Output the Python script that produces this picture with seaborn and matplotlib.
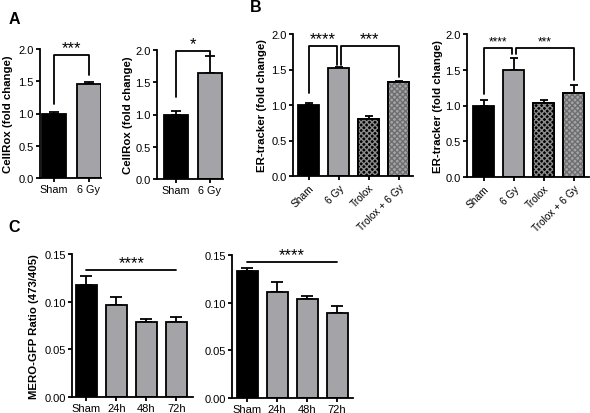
import numpy as np
import matplotlib
matplotlib.use("Agg")
import matplotlib.pyplot as plt
import seaborn as sns

# ---------------- data ----------------
a_cats = ["Sham", "6 Gy"]
a1_vals = [1.00, 1.457]
a1_err = [0.03, 0.025]
a2_vals = [1.00, 1.65]
a2_err = [0.06, 0.25]

b_cats = ["Sham", "6 Gy", "Trolox", "Trolox + 6 Gy"]
b1_vals = [0.995, 1.52, 0.805, 1.32]
b1_err = [0.035, 0.015, 0.04, 0.012]
b2_vals = [1.00, 1.50, 1.03, 1.17]
b2_err = [0.07, 0.16, 0.04, 0.12]

c_cats = ["Sham", "24h", "48h", "72h"]
c1_vals = [0.1176, 0.097, 0.0785, 0.0785]
c1_err = [0.0097, 0.0077, 0.0028, 0.0055]
c2_vals = [0.133, 0.111, 0.1036, 0.0889]
c2_err = [0.0035, 0.011, 0.0038, 0.008]

# significance brackets: (x_left, x_right, leg_left, leg_right, top, label)
a1_sig = [(0, 1, 1.15, 1.59, 1.90, "***")]
a2_sig = [(0, 1, 1.27, 1.93, 1.98, "*")]
b1_sig = [(0, 0.93, 1.17, 1.565, 1.836, "****"), (1.07, 3, 1.565, 1.39, 1.836, "***")]
b2_sig = [(0, 0.93, 1.16, 1.72, 1.81, "****"), (1.07, 3, 1.72, 1.35, 1.81, "***")]
c1_sig = [(0, 3, 0.1333, "****")]
c2_sig = [(0, 3, 0.1423, "****")]

# ---------------- style ----------------
sns.set_theme(style="ticks")
plt.rcParams["font.family"] = ["Liberation Sans", "DejaVu Sans"]
plt.rcParams["hatch.linewidth"] = 1.0

W, H = 590, 414
fig = plt.figure(figsize=(W / 100, H / 100), dpi=100)

GRAY = "#a3a3a8"
BLACK = "#000000"
LW = 1.3


def rect(l, r, t, b):
    return [l / W, 1 - b / H, (r - l) / W, (b - t) / H]


def make_panel(pos, cats, vals, errs, colors, hatched, xlim, ylim, yticks, fmt,
               ylabel, ylabel_px, xrot, xfs, capsize):
    l, r, t, b = pos
    ax = fig.add_axes(rect(l, r, t, b))
    sns.barplot(x=cats, y=vals, hue=cats, palette=colors, legend=False,
                edgecolor="black", linewidth=LW, width=0.7, saturation=1,
                ax=ax, zorder=2)
    n = len(cats)
    for i in hatched:
        hc = "#8c8c8c" if colors[i] == BLACK else "#6e6e6e"
        ax.bar(i, vals[i], width=0.7, fill=False, hatch="xxxxxx",
               edgecolor=hc, linewidth=0, zorder=2.1)
        ax.bar(i, vals[i], width=0.7, fill=False, edgecolor="black",
               linewidth=LW, zorder=2.2)
    ax.errorbar(np.arange(n), vals, yerr=[np.zeros(n), errs], fmt="none",
                ecolor="black", elinewidth=LW, capsize=capsize, capthick=LW,
                zorder=1.5)
    ax.set_xlim(*xlim)
    ax.set_ylim(*ylim)
    ax.set_yticks(yticks)
    ax.set_yticklabels([fmt % v for v in yticks], fontsize=8)
    ax.set_xticks(np.arange(n))
    if xrot:
        ax.set_xticklabels(cats, rotation=45, ha="right",
                           rotation_mode="anchor", fontsize=xfs)
    else:
        ax.set_xticklabels(cats, fontsize=xfs)
    ax.set_xlabel("")
    sns.despine(ax=ax)
    for s in ("left", "bottom"):
        ax.spines[s].set_linewidth(LW)
        ax.spines[s].set_color("black")
    ax.tick_params(axis="both", length=3, width=LW, color="black",
                   pad=1.5, labelcolor="black")
    if ylabel:
        ax.set_ylabel(ylabel, fontsize=8.2, fontweight="bold", color="black")
        ax.yaxis.set_label_coords((ylabel_px - l) / (r - l), 0.5)
    else:
        ax.set_ylabel("")
    return ax


def brackets(ax, sigs, fs):
    for x0, x1, y0, y1, top, lab in sigs:
        ax.plot([x0, x0, x1, x1], [y0, top, top, y1], color="black",
                lw=LW, clip_on=False, zorder=3)
        ax.text((x0 + x1) / 2, top, lab, ha="center", va="bottom",
                fontsize=fs, color="black", clip_on=False)


def lines(ax, sigs, fs):
    for x0, x1, y, lab in sigs:
        ax.plot([x0, x1], [y, y], color="black", lw=LW, clip_on=False, zorder=3)
        ax.text((x0 + x1) / 2, y, lab, ha="center", va="bottom",
                fontsize=fs, color="black", clip_on=False)


a_cols = [BLACK, GRAY]
b_cols = [BLACK, GRAY, BLACK, GRAY]
c_cols = [BLACK, GRAY, GRAY, GRAY]
yt_a = [0.0, 0.5, 1.0, 1.5, 2.0]
yt_c = [0.0, 0.05, 0.10, 0.15]

ax = make_panel((40, 101, 50, 179), a_cats, a1_vals, a1_err, a_cols, [],
                (-0.41, 1.36), (0, 2.0), yt_a, "%.1f",
                "CellRox (fold change)", 13, False, 7.8, 3.5)
brackets(ax, a1_sig, 12)

ax = make_panel((157, 223, 51, 180), a_cats, a2_vals, a2_err, a_cols, [],
                (-0.54, 1.38), (0, 2.0), yt_a, "%.1f",
                "CellRox (fold change)", 133, False, 7.8, 3.5)
brackets(ax, a2_sig, 12)

ax = make_panel((293, 413, 35, 177), b_cats, b1_vals, b1_err, b_cols, [2, 3],
                (-0.53, 3.47), (0, 2.0), yt_a, "%.1f",
                "ER-tracker (fold change)", 267, True, 7.3, 3)
brackets(ax, b1_sig, 12)

ax = make_panel((467, 589, 35, 178), b_cats, b2_vals, b2_err, b_cols, [2, 3],
                (-0.55, 3.5), (0, 2.0), yt_a, "%.1f",
                "ER-tracker (fold change)", 443, True, 7.3, 3)
brackets(ax, b2_sig, 8.5)

ax = make_panel((72, 193, 255, 398), c_cats, c1_vals, c1_err, c_cols, [],
                (-0.48, 3.55), (0, 0.15), yt_c, "%.2f",
                "MERO-GFP Ratio (473/405)", 39, False, 8, 4)
lines(ax, c1_sig, 12)

ax = make_panel((232, 353, 256, 399), c_cats, c2_vals, c2_err, c_cols, [],
                (-0.5, 3.53), (0, 0.15), yt_c, "%.2f",
                None, 0, False, 8, 4)
lines(ax, c2_sig, 12)

for lab, x, y in (("A", 14, 20), ("B", 256, 8), ("C", 14, 228)):
    fig.text(x / W, 1 - y / H, lab, fontsize=11.5, fontweight="bold",
             ha="center", va="center", color="black")

fig.savefig("out.png", dpi=100)
